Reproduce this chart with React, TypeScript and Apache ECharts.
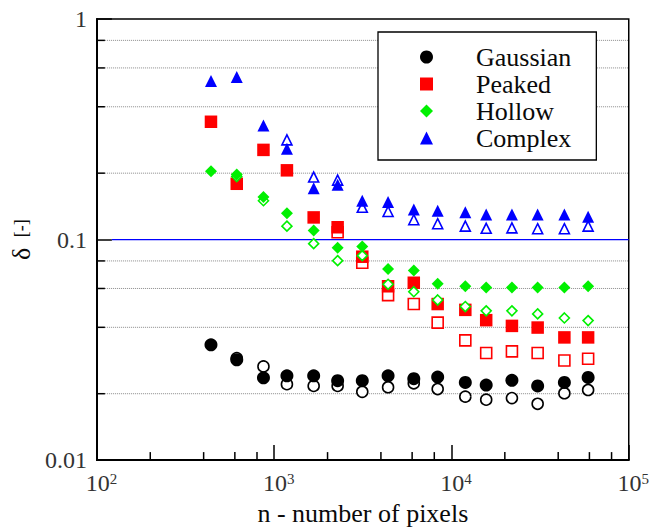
import React, { useEffect, useRef } from 'react';
import * as echarts from 'echarts';

// ---- data ----
const nPixels = [440, 615, 870, 1180, 1670, 2280, 3140, 4390, 6130, 8360, 11970, 15700, 21930, 30630, 43340, 59000];

const gaussianFilled = [0.0333, 0.0285, 0.0236, 0.0241, 0.0241, 0.0229, 0.0229, 0.0241, 0.0234, 0.0238, 0.0225, 0.0219, 0.0230, 0.0217, 0.0225, 0.0237];
const gaussianOpen = [null, 0.029, 0.0266, 0.0221, 0.0217, 0.0217, 0.0204, 0.0214, 0.0223, 0.0210, 0.0194, 0.0188, 0.0191, 0.0180, 0.0201, 0.0208];

const peakedFilled = [0.342, 0.179, 0.255, 0.206, 0.126, 0.1137, 0.0836, 0.0614, 0.0637, 0.051, 0.048, 0.0431, 0.0406, 0.0399, 0.036, 0.036];
const peakedOpen = [null, null, null, null, null, 0.108, 0.0785, 0.056, 0.051, 0.042, 0.0349, 0.0306, 0.0311, 0.0306, 0.0283, 0.0288];

const hollowFilled = [0.204, 0.197, 0.156, 0.1317, 0.110, 0.0917, 0.0929, 0.0736, 0.0724, 0.0631, 0.0614, 0.0606, 0.0606, 0.0606, 0.0606, 0.0614];
const hollowOpen = [null, 0.193, 0.150, 0.115, 0.0958, 0.0802, 0.0845, 0.0627, 0.058, 0.0532, 0.0497, 0.0475, 0.0475, 0.046, 0.0441, 0.0429];

const complexFilled = [0.524, 0.546, 0.329, 0.258, 0.171, 0.177, 0.150, 0.148, 0.137, 0.135, 0.133, 0.130, 0.130, 0.130, 0.130, 0.127];
const complexOpen = [null, null, null, 0.283, 0.192, 0.186, 0.140, 0.134, 0.123, 0.118, 0.115, 0.1125, 0.113, 0.112, 0.112, 0.115];

const seriesNames = ['Gaussian', 'Peaked', 'Hollow', 'Complex'];
const xMin = 100;
const xMax = 100000;
const yMin = 0.01;
const yMax = 1;
const yMinorTicks = [0.02, 0.04, 0.06, 0.08, 0.2, 0.4, 0.6, 0.8];
const xMinorTicks = [200, 400, 600, 800, 2000, 4000, 6000, 8000, 20000, 40000, 60000, 80000];
const refLineValue = [0.1];

const FONT = 'Liberation Serif';
const GREEN = '#00f000';
const INK = '#0a0a0a';

function pairs(vals: (number | null)[]) {
  return nPixels
    .map((x, i) => (vals[i] == null ? null : [x, vals[i]]))
    .filter((d) => d !== null) as number[][];
}

function filledSeries(name: string, vals: (number | null)[], symbol: string, size: number, color: string) {
  return {
    name,
    type: 'scatter',
    data: pairs(vals),
    symbol,
    symbolSize: size,
    itemStyle: { color, opacity: 1 },
    z: 3,
  };
}

function openSeries(name: string, vals: (number | null)[], symbol: string, size: number, color: string) {
  return {
    name,
    type: 'scatter',
    data: pairs(vals),
    symbol,
    symbolSize: size,
    itemStyle: { color: '#ffffff', borderColor: color, borderWidth: 1.6, opacity: 1 },
    z: 3,
  };
}

export default function App() {
  const ref = useRef<HTMLDivElement>(null);
  useEffect(() => {
    if (!ref.current) return;
    const chart = echarts.init(ref.current, null, { renderer: 'svg' });
    const option: any = {
      animation: false,
      backgroundColor: '#ffffff',
      textStyle: { fontFamily: FONT },
      grid: {
        left: 96,
        top: 19,
        right: 19,
        bottom: 63,
        show: true,
        borderColor: '#000',
        borderWidth: 1.5,
        backgroundColor: 'transparent',
      },
      legend: {
        data: seriesNames,
        orient: 'vertical',
        left: 378,
        top: 32,
        itemWidth: 13,
        itemHeight: 13,
        itemGap: 1,
        symbolKeepAspect: true,
        padding: [12, 25, 9, 42],
        backgroundColor: '#fff',
        borderColor: '#000',
        borderWidth: 1.3,
        selectedMode: false,
        textStyle: {
          fontFamily: FONT,
          fontSize: 26,
          color: INK,
          lineHeight: 20,
          padding: [0, 0, 4, 38],
        },
      },
      xAxis: {
        type: 'log',
        logBase: 10,
        min: xMin,
        max: xMax,
        splitNumber: 3,
        axisLine: { show: true, lineStyle: { color: '#000', width: 2 } },
        axisTick: { show: true, inside: true, length: 15, lineStyle: { color: '#000', width: 1.5 } },
        splitLine: { show: false },
        axisLabel: {
          margin: 11,
          padding: [0, 0, 0, 9],
          fontFamily: FONT,
          formatter: (v: number) => `{b|10}{s|${Math.round(Math.log10(v))}}`,
          rich: {
            b: { fontFamily: FONT, fontSize: 24, color: '#333' },
            s: { fontFamily: FONT, fontSize: 15, color: '#333', verticalAlign: 'top', lineHeight: 10 },
          },
        },
        name: 'n - number of pixels',
        nameLocation: 'middle',
        nameGap: 32,
        nameTextStyle: { fontFamily: FONT, fontSize: 26, color: INK },
      },
      yAxis: {
        type: 'log',
        logBase: 10,
        min: yMin,
        max: yMax,
        splitNumber: 2,
        axisLine: { show: true, lineStyle: { color: '#000', width: 2 } },
        axisTick: { show: true, inside: true, length: 15, lineStyle: { color: '#000', width: 1.5 } },
        splitLine: { show: false },
        axisLabel: {
          margin: 10,
          fontFamily: FONT,
          fontSize: 24,
          color: '#333',
          formatter: (v: number) => (v > 0.5 ? '1' : v > 0.05 ? '0.1' : '0.01'),
        },
        name: '{d|δ} {b|[-]}',
        nameLocation: 'middle',
        nameGap: 58,
        nameTextStyle: {
          fontFamily: FONT,
          fontSize: 26,
          color: INK,
          rich: {
            d: { fontFamily: FONT, fontSize: 26, color: INK },
            b: { fontFamily: FONT, fontSize: 18, color: INK, padding: [0, 0, 0, 4] },
          },
        },
      },
      series: [
        {
          name: 'yGrid',
          type: 'custom',
          silent: true,
          z: 1,
          data: yMinorTicks.map((v) => [xMin, v]),
          renderItem: (params: any, api: any) => {
            const v = api.value(1);
            const p0 = api.coord([xMin, v]);
            const p1 = api.coord([xMax, v]);
            return {
              type: 'group',
              children: [
                {
                  type: 'line',
                  shape: { x1: p0[0] + 8, y1: p0[1], x2: p1[0], y2: p1[1] },
                  style: { stroke: '#8a8a8a', lineWidth: 1, lineDash: [1, 1] },
                },
                {
                  type: 'line',
                  shape: { x1: p0[0], y1: p0[1], x2: p0[0] + 8, y2: p0[1] },
                  style: { stroke: '#000', lineWidth: 1.5 },
                },
              ],
            };
          },
        },
        {
          name: 'xMinor',
          type: 'custom',
          silent: true,
          z: 1,
          data: xMinorTicks.map((v) => [v, yMin]),
          renderItem: (params: any, api: any) => {
            const v = api.value(0);
            const p = api.coord([v, yMin]);
            return {
              type: 'line',
              shape: { x1: p[0], y1: p[1], x2: p[0], y2: p[1] - 8 },
              style: { stroke: '#000', lineWidth: 1.5 },
            };
          },
        },
        {
          name: 'refLine',
          type: 'custom',
          silent: true,
          z: 1,
          data: refLineValue.map((v) => [xMin, v]),
          renderItem: (params: any, api: any) => {
            const v = api.value(1);
            const p0 = api.coord([xMin, v]);
            const p1 = api.coord([xMax, v]);
            return {
              type: 'line',
              shape: { x1: p0[0] + 15, y1: p0[1], x2: p1[0], y2: p1[1] },
              style: { stroke: '#0000ff', lineWidth: 1.3 },
            };
          },
        },
        openSeries('Gaussian (open)', gaussianOpen, 'circle', 11, '#000000'),
        filledSeries('Gaussian', gaussianFilled, 'circle', 13, '#000000'),
        openSeries('Peaked (open)', peakedOpen, 'rect', 11, '#ff0000'),
        filledSeries('Peaked', peakedFilled, 'rect', 12.5, '#ff0000'),
        openSeries('Hollow (open)', hollowOpen, 'diamond', 10, GREEN),
        filledSeries('Hollow', hollowFilled, 'diamond', 12, GREEN),
        openSeries('Complex (open)', complexOpen, 'triangle', 10, '#0000ff'),
        filledSeries('Complex', complexFilled, 'triangle', 12, '#0000ff'),
      ],
    };
    chart.setOption(option);
    return () => chart.dispose();
  }, []);
  return (
    <>
      <style>{`#chart-root text, #chart-root tspan, #chart-root svg * { font-family: "Liberation Serif", serif !important; }`}</style>
      <div
        id="chart-root"
        ref={ref}
        style={{ position: 'fixed', left: 0, top: 0, width: 652, height: 531, background: '#fff', fontFamily: '"Liberation Serif", serif' }}
      />
    </>
  );
}
